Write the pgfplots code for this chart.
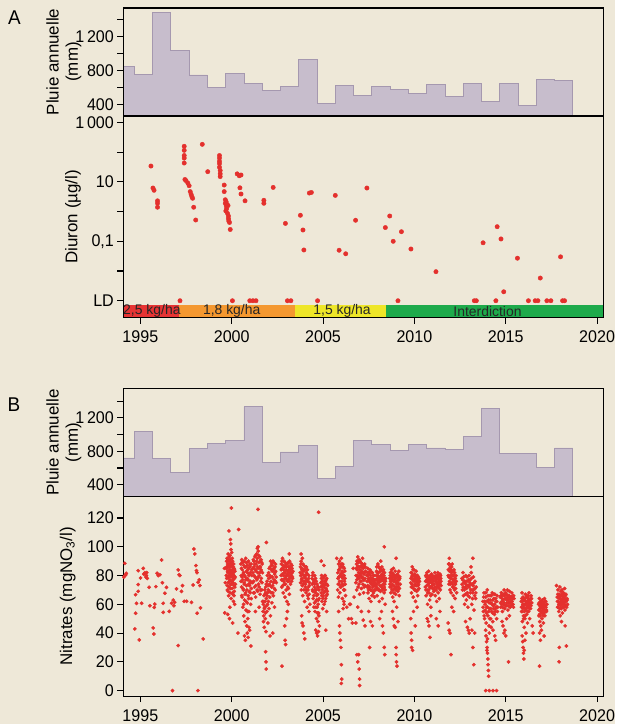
\documentclass[border=0pt]{standalone}
\usepackage{pgfplots}
\pgfplotsset{compat=1.18}
\usepackage{fontspec}
\setmainfont{Liberation Sans}
\newfontfamily\condfont{Liberation Sans}[FakeStretch=0.95]
\definecolor{bg}{RGB}{238,232,216}
\definecolor{histfill}{RGB}{199,189,204}
\definecolor{histedge}{RGB}{165,152,175}
\definecolor{dotred}{RGB}{228,48,45}
\definecolor{bandred}{RGB}{230,52,52}
\definecolor{bandorange}{RGB}{244,152,48}
\definecolor{bandyellow}{RGB}{238,230,40}
\definecolor{bandgreen}{RGB}{30,170,75}
\begin{document}
\begin{tikzpicture}
\fill[bg] (0bp,0bp) rectangle (616bp,-725bp);
\pgfplotsset{
  base/.style={scale only axis, width=480.5bp, xmin=1994.07, xmax=2020.34,
    axis line style={line width=1.3bp}, tick style={black, line width=1.1bp},
    major tick length=6bp, tick align=outside, ytick pos=left, xtick pos=bottom,
    axis on top, anchor=north west,
    tick label style={font=\condfont\fontsize{17}{17}\selectfont},
    xticklabel style={yshift=-4bp},
    label style={font=\fontsize{17}{19.5}\selectfont},
    /pgf/number format/assume math mode=true},
  hist/.style={base, height=108bp, ymin=262, ymax=1536, xtick=\empty,
    ytick={400,600,...,1400}, yticklabels={400,,800,,1\,200,},
    ylabel={Pluie annuelle\\(mm)},
    ylabel style={align=center, at={(axis description cs:-0.124,0.5)}, anchor=center}},
  nit/.style={only marks, mark=*, mark size=1.7bp, mark options={draw=dotred, fill=dotred}},
}
\node[font=\condfont\fontsize{20}{20}\selectfont] at (14.5bp,-18bp) {A};
\node[font=\condfont\fontsize{20}{20}\selectfont] at (14bp,-405bp) {B};

% ---------- A : rain ----------
\begin{axis}[hist, at={(123.5bp,-8bp)}]
\addplot[const plot, fill=histfill, draw=histedge, line width=0.8bp] coordinates {
(1993.67,850)(1994.67,752)(1995.67,1485)(1996.67,1030)(1997.67,745)(1998.67,602)
(1999.67,760)(2000.67,646)(2001.67,562)(2002.67,614)(2003.67,931)(2004.67,408)
(2005.67,626)(2006.67,507)(2007.67,614)(2008.67,574)(2009.67,527)(2010.67,638)
(2011.67,495)(2012.67,646)(2013.67,428)(2014.67,646)(2015.67,388)(2016.67,693)
(2017.67,677)(2018.67,677)} \closedcycle;
\end{axis}

% ---------- A : diuron ----------
\begin{axis}[base, at={(123.5bp,-116bp)}, height=202bp, ymode=log,
  ymin=0.00027, ymax=1660, yminorticks=false,
  ytick={0.001,0.01,0.1,1,10,100,1000}, yticklabels={LD,,{0,1},,10,,1\,000},
  xtick={1995,2000,...,2020}, xticklabels={1995,2000,2005,2010,2015,2020},
  ylabel={Diuron (µg/l)},
  ylabel style={at={(axis description cs:-0.105,0.5)}, anchor=center}]
\fill[bandred] (axis cs:1994.07,0.00027) rectangle (axis cs:1997.12,0.00071);
\fill[bandorange] (axis cs:1997.12,0.00027) rectangle (axis cs:2003.48,0.00071);
\fill[bandyellow] (axis cs:2003.48,0.00027) rectangle (axis cs:2008.43,0.00071);
\fill[bandgreen] (axis cs:2008.43,0.00027) rectangle (axis cs:2020.34,0.00071);
\node[font=\fontsize{14}{14}\selectfont, text=black!85] at (axis cs:1995.63,0.00044) {2,5 kg/ha};
\node[font=\fontsize{14}{14}\selectfont, text=black!85] at (axis cs:2000.0,0.00044) {1,8 kg/ha};
\node[font=\fontsize{14}{14}\selectfont, text=black!85] at (axis cs:2006.04,0.00044) {1,5 kg/ha};
\node[font=\fontsize{14}{14}\selectfont, text=black!85] at (axis cs:2014.0,0.00044) {Interdiction};
\addplot[only marks, mark=*, mark size=2.2bp, mark options={draw=dotred, fill=dotred}] coordinates {
(1995.58,34)(1995.69,6.2)(1995.75,5.2)(1995.94,2.3)(1995.94,1.9)(1995.94,1.4)
(1997.17,0.001)
(1997.40,157)(1997.40,115)(1997.40,77)(1997.40,63)(1997.40,43)(1997.44,12)(1997.50,11)
(1997.60,9.1)(1997.67,7.4)(1997.73,4.7)(1997.78,3.8)(1997.82,3.2)(1997.86,2.8)(1997.92,1.4)(1998.03,0.52)
(1998.39,183)(1998.69,22)
(1999.33,77)(1999.33,63)(1999.33,49)(1999.33,41)(1999.33,31)(1999.37,24)(1999.37,18.6)(1999.37,15)
(1999.59,7.8)(1999.59,4.7)(1999.65,2.5)(1999.65,1.9)(1999.70,1.55)(1999.72,1.25)(1999.68,1.05)
(1999.77,0.87)(1999.82,0.71)(1999.82,0.58)(1999.84,0.48)(1999.88,0.43)(1999.92,0.25)
(1999.70,2.1)(1999.75,1.7)(1999.80,1.6)
(2000.04,0.001)
(2000.30,18.6)(2000.41,16)(2000.51,17)(2000.45,6.3)(2000.51,3.9)(2000.73,2.3)
(2000.99,0.001)(2001.16,0.001)(2001.33,0.001)
(2001.76,2.4)(2001.76,1.9)(2002.27,6.5)(2002.94,0.4)(2003.05,0.001)(2003.24,0.001)
(2003.76,0.75)(2003.90,0.24)(2003.95,0.051)(2004.25,4.2)(2004.36,4.4)(2004.70,0.001)
(2005.67,3.5)(2005.88,0.05)(2006.24,0.038)(2006.78,0.51)(2007.40,6.2)
(2008.41,0.29)(2008.65,0.71)(2008.84,0.1)(2009.10,0.001)(2009.29,0.21)(2009.81,0.055)(2011.18,0.0095)
(2013.28,0.001)(2013.39,0.001)(2013.76,0.089)(2014.46,0.001)(2014.53,0.31)(2014.74,0.12)(2014.89,0.002)(2015.64,0.027)
(2016.24,0.001)(2016.61,0.001)(2016.76,0.001)(2016.89,0.0058)(2017.25,0.001)(2017.47,0.001)
(2018.00,0.03)(2018.11,0.001)(2018.22,0.001)};
\end{axis}

% ---------- B : rain ----------
\begin{axis}[hist, at={(123.5bp,-389bp)}, ymin=260, ymax=1550]
\addplot[const plot, fill=histfill, draw=histedge, line width=0.8bp] coordinates {
(1993.67,720)(1994.67,1040)(1995.67,712)(1996.67,552)(1997.67,832)(1998.67,892)
(1999.67,932)(2000.67,1332)(2001.67,668)(2002.67,792)(2003.67,868)(2004.67,472)
(2005.67,620)(2006.67,928)(2007.67,880)(2008.67,812)(2009.67,884)(2010.67,840)
(2011.67,824)(2012.67,976)(2013.67,1316)(2014.67,772)(2015.67,772)(2016.67,604)
(2017.67,840)(2018.67,840)} \closedcycle;
\end{axis}

% ---------- B : nitrates ----------
\begin{axis}[base, at={(123.5bp,-497bp)}, height=200bp, ymin=-3.9, ymax=135,
  ytick={0,20,...,120},
  xtick={1995,2000,...,2020}, xticklabels={1995,2000,2005,2010,2015,2020},
  ylabel={Nitrates (mgNO\textsubscript{3}/l)},
  ylabel style={at={(axis description cs:-0.116,0.5)}, anchor=center}]
\addplot[nit] coordinates {
(1994.06,93.8)(1994.15,88.5)(1994.2,80.5)(1994.23,81.5)(1994.15,80)(1994.1,79)(1994.06,63)(1994.06,42.9)
(1994.70,42.9)(1994.74,53.8)(1994.74,66.7)(1994.79,60.7)(1994.88,73.7)(1994.88,69)(1994.94,35.2)(1994.88,83.4)
(1995.01,78.3)(1995.07,60.7)(1995.16,85)(1995.19,81)(1995.25,82)(1995.3,79)(1995.33,80)(1995.35,82)(1995.38,78)
(1995.48,71.8)(1995.52,59)(1995.70,43.6)(1995.74,39.4)(1995.76,57.9)(1995.79,60.2)(1995.85,72.3)(1995.92,81.6)
(1995.98,80)(1996.07,80.6)(1996.16,90.8)(1996.21,75)(1996.25,60.7)(1996.25,54.4)(1996.34,67.7)(1996.43,71.8)
(1996.58,55.1)(1996.71,60.7)(1996.76,0)(1996.8,62.9)(1996.84,59)(1996.88,61.4)(1996.98,70.7)(1997.07,83.9)
(1997.12,80.6)(1997.16,80)(1997.07,31.3)(1997.25,69)(1997.31,73)(1997.40,62.1)(1997.53,62.1)(1997.80,61.4)
(1997.89,73.4)(1997.93,98.5)(1997.98,95)(1998.04,86.9)(1998.07,83.4)(1998.10,82)(1998.16,75.3)(1998.22,77)
(1998.26,73)(1998.11,53.8)(1998.15,0)(1998.29,57.5)(1998.44,35.9)
(1999.70,85)(1999.72,90)(1999.73,78)(1999.75,92)(1999.76,70)(1999.78,88)(1999.79,82)(1999.80,95)(1999.81,75)
(1999.82,86)(1999.83,66)(1999.84,90)(1999.85,80)(1999.86,72)(1999.87,93)(1999.88,84)(1999.89,77)(1999.90,88)
(1999.91,68)(1999.92,91)(1999.93,81)(1999.94,74)(1999.95,86)(1999.96,79)(1999.97,64)(1999.98,89)(1999.99,83)
(2000.00,76)(2000.01,87)(2000.02,71)(2000.03,84)(2000.04,79)(2000.05,90)(2000.06,67)(2000.07,82)(2000.08,75)
(2000.09,86)(2000.10,62)(2000.11,80)(2000.12,73)(2000.13,85)(2000.14,69)(2000.15,78)(2000.16,60)(2000.18,83)(2000.20,74)
(1999.98,127)(1999.85,111)(1999.93,105)(1999.95,102)(2000.38,112)(1999.62,54)(1999.78,53)(1999.9,58)(1999.88,50)
(2000.05,47)(2000.34,40)(1999.65,75)(1999.6,85)(2000.0,96)(1999.96,98)
(2000.50,88)(2000.52,80)(2000.54,72)(2000.55,91)(2000.57,65)(2000.58,84)(2000.60,77)(2000.61,58)(2000.62,89)
(2000.64,70)(2000.65,82)(2000.66,52)(2000.68,75)(2000.69,90)(2000.70,63)(2000.72,86)(2000.73,48)(2000.74,79)
(2000.76,68)(2000.77,92)(2000.78,56)(2000.80,83)(2000.81,73)(2000.82,45)(2000.84,87)(2000.85,61)(2000.86,78)
(2000.88,50)(2000.89,84)(2000.90,66)(2000.92,90)(2000.93,74)(2000.94,55)(2000.96,81)(2000.97,69)(2000.98,42)
(2001.00,86)(2001.02,76)(2001.04,60)(2001.06,88)(2001.08,71)(2001.10,80)
(2000.7,38)(2000.75,35)(2000.85,40)(2001.05,31)(2000.9,37)(2000.95,44)
(2001.15,75)(2001.17,85)(2001.19,68)(2001.21,90)(2001.23,80)(2001.25,72)(2001.27,93)(2001.29,84)(2001.31,65)
(2001.33,88)(2001.35,78)(2001.37,95)(2001.39,70)(2001.41,86)(2001.43,82)(2001.45,97)(2001.47,74)(2001.49,89)
(2001.51,80)(2001.53,93)(2001.55,67)(2001.57,86)(2001.59,76)(2001.61,91)(2001.63,83)(2001.65,70)(2001.67,88)(2001.69,62)
(2001.44,126)(2001.40,99)(2001.45,100)(2001.3,55)(2001.5,58)
(2001.72,55)(2001.74,48)(2001.76,62)(2001.78,44)(2001.80,58)(2001.82,67)(2001.84,50)(2001.86,72)(2001.88,41)
(2001.90,64)(2001.92,55)(2001.94,76)(2001.96,60)(2001.98,47)(2002.00,70)(2002.02,82)(2002.04,57)(2002.06,74)
(2002.08,65)(2002.10,86)(2002.12,52)(2002.14,79)(2002.16,68)(2002.18,88)(2002.20,61)(2002.22,83)(2002.24,73)
(2002.26,90)(2002.28,66)(2002.30,85)(2002.32,77)(2002.34,58)(2002.36,82)(2002.38,70)(2002.40,88)(2002.44,75)
(2001.90,103)(2001.86,27)(2001.88,20)(2001.89,15)(2002.25,40)(2002.1,38)
(2002.70,80)(2002.72,88)(2002.74,72)(2002.76,85)(2002.78,92)(2002.80,77)(2002.82,68)(2002.84,84)(2002.86,90)
(2002.88,74)(2002.90,82)(2002.92,65)(2002.94,87)(2002.96,79)(2002.98,70)(2003.00,86)(2003.02,62)(2003.04,81)
(2003.06,76)(2003.08,89)(2003.10,71)(2003.12,84)(2003.14,78)(2003.16,67)(2003.18,86)(2003.20,80)(2003.22,74)
(2003.24,88)(2003.26,82)(2003.28,76)(2003.30,85)(2003.32,79)(2003.35,83)
(2002.75,17)(2002.9,45)(2002.92,35)(2002.95,32)(2003.0,50)(2003.1,60)(2003.15,95)(2003.05,55)
(2003.75,82)(2003.77,75)(2003.79,88)(2003.81,70)(2003.83,85)(2003.85,78)(2003.87,92)(2003.89,66)(2003.91,83)
(2003.93,74)(2003.95,87)(2003.97,79)(2003.99,62)(2004.01,84)(2004.03,72)(2004.05,80)(2004.07,68)(2004.09,86)
(2004.11,76)(2004.13,58)(2004.15,81)(2004.17,70)(2004.19,64)(2004.21,78)(2004.23,55)(2004.25,73)(2004.28,60)
(2003.80,95)(2003.85,47)(2003.9,45)(2003.95,40)(2004.0,36)(2003.83,52)
(2004.40,78)(2004.42,70)(2004.44,82)(2004.46,64)(2004.48,75)(2004.50,58)(2004.52,72)(2004.54,80)(2004.56,55)
(2004.58,68)(2004.60,62)(2004.62,76)(2004.64,50)(2004.66,66)(2004.68,58)(2004.70,72)(2004.72,48)(2004.74,63)
(2004.76,54)(2004.78,70)(2004.80,45)
(2004.6,42)(2004.65,40)(2004.7,38)(2004.75,41)(2004.76,124)
(2004.88,75)(2004.90,68)(2004.92,80)(2004.94,62)(2004.96,73)(2004.98,57)(2005.00,78)(2005.02,66)(2005.04,72)
(2005.06,60)(2005.08,76)(2005.10,69)(2005.12,80)(2005.14,64)(2005.16,74)(2005.18,70)(2005.20,78)(2005.22,67)(2005.25,73)
(2004.9,90)(2005.05,87)(2005.15,42)(2005.2,55)
(2005.80,70)(2005.82,78)(2005.84,65)(2005.86,84)(2005.88,74)(2005.90,90)(2005.92,68)(2005.94,80)(2005.96,86)
(2005.98,72)(2006.00,92)(2006.02,76)(2006.04,83)(2006.06,64)(2006.08,88)(2006.10,73)(2006.12,80)(2006.14,62)
(2006.16,85)(2006.18,70)(2006.20,78)(2006.23,66)
(2005.85,55)(2005.9,45)(2005.92,40)(2005.95,35)(2005.98,30)(2006.0,18)(2006.02,8)(2006.0,5)(2005.75,92)
(2006.1,57)(2006.15,60)(2006.3,58)(2006.4,50)(2006.45,60)
(2006.5,60)(2006.55,50)(2006.6,47)(2006.65,85)(2006.7,65)
(2006.80,75)(2006.82,85)(2006.84,70)(2006.86,90)(2006.88,80)(2006.90,93)(2006.92,72)(2006.94,86)(2006.96,78)
(2006.98,91)(2007.00,67)(2007.02,84)(2007.04,76)(2007.06,89)(2007.08,82)(2007.10,71)(2007.12,87)(2007.14,79)
(2007.16,92)(2007.18,74)(2007.20,85)(2007.22,68)(2007.24,81)(2007.26,77)(2007.28,88)(2007.30,73)(2007.33,83)
(2006.8,47)(2006.85,25)(2006.9,20)(2006.95,25)(2006.98,15)(2007.0,8)(2007.0,3.5)(2006.9,58)(2007.1,55)(2007.2,49)(2007.3,45)
(2007.40,80)(2007.42,72)(2007.44,85)(2007.46,68)(2007.48,78)(2007.50,82)(2007.52,64)(2007.54,76)(2007.56,84)
(2007.58,70)(2007.60,80)(2007.62,62)(2007.64,74)(2007.66,78)(2007.68,66)(2007.70,82)(2007.72,72)(2007.74,76)
(2007.76,68)(2007.78,80)(2007.80,73)(2007.82,65)(2007.85,77)(2007.88,70)
(2007.5,55)(2007.6,48)(2007.55,30)(2007.7,45)
(2007.90,80)(2007.92,72)(2007.94,86)(2007.96,66)(2007.98,78)(2008.00,88)(2008.02,70)(2008.04,82)(2008.06,75)
(2008.08,62)(2008.10,85)(2008.12,77)(2008.14,69)(2008.16,90)(2008.18,80)(2008.20,73)(2008.22,86)(2008.24,64)
(2008.26,79)(2008.28,71)(2008.30,84)(2008.32,76)(2008.34,68)(2008.36,82)(2008.38,74)(2008.40,60)(2008.43,78)
(2008.35,100)(2008.2,55)(2008.25,45)(2008.3,40)(2008.35,30)(2008.38,25)(2008.1,50)
(2008.65,78)(2008.67,72)(2008.69,82)(2008.71,68)(2008.73,76)(2008.75,84)(2008.77,70)(2008.79,80)(2008.81,65)
(2008.83,77)(2008.85,85)(2008.87,73)(2008.89,62)(2008.91,79)(2008.93,71)(2008.95,83)(2008.97,67)(2008.99,75)
(2009.01,80)(2009.03,58)(2009.05,74)(2009.07,81)(2009.09,69)(2009.11,77)(2009.13,72)(2009.15,83)(2009.17,66)
(2009.19,78)(2009.22,74)
(2009.0,92)(2008.8,55)(2008.9,45)(2008.95,44)(2009.0,30)(2009.0,25)(2009.02,20)(2009.05,17)(2008.85,50)(2009.1,48)
(2009.80,75)(2009.82,82)(2009.84,68)(2009.86,79)(2009.88,86)(2009.90,72)(2009.92,80)(2009.94,65)(2009.96,77)
(2009.98,84)(2010.00,70)(2010.02,81)(2010.04,74)(2010.06,62)(2010.08,78)(2010.10,83)(2010.12,69)(2010.14,76)
(2010.16,80)(2010.18,66)(2010.20,73)(2010.22,79)(2010.25,71)(2010.28,76)
(2009.8,50)(2009.82,40)(2009.85,35)(2009.85,30)(2009.9,28)(2009.95,55)(2010.05,45)(2010.15,58)
(2010.60,72)(2010.62,80)(2010.64,66)(2010.66,76)(2010.68,82)(2010.70,70)(2010.72,60)(2010.74,78)(2010.76,74)
(2010.78,83)(2010.80,68)(2010.82,77)(2010.84,63)(2010.86,80)(2010.88,72)(2010.90,58)(2010.92,75)(2010.94,81)
(2010.96,67)(2010.98,78)(2011.00,71)(2011.03,76)(2011.06,69)
(2010.7,50)(2010.75,48)(2010.8,45)(2010.85,37)(2010.9,52)
(2011.08,78)(2011.10,70)(2011.12,82)(2011.14,66)(2011.16,76)(2011.18,80)(2011.20,72)(2011.22,62)(2011.24,79)
(2011.26,74)(2011.28,82)(2011.30,68)(2011.32,77)(2011.34,80)(2011.36,64)(2011.38,75)(2011.40,81)(2011.42,70)
(2011.44,78)(2011.46,73)
(2011.2,50)(2011.3,45)(2011.4,55)
(2011.85,80)(2011.87,88)(2011.89,74)(2011.91,92)(2011.93,83)(2011.95,70)(2011.97,86)(2011.99,78)(2012.01,68)
(2012.03,82)(2012.05,75)(2012.07,88)(2012.09,72)(2012.11,80)(2012.13,66)(2012.15,77)(2012.17,84)(2012.19,70)
(2012.21,78)(2012.23,64)(2012.25,74)(2012.28,80)(2012.31,68)
(2011.85,47)(2011.9,42)(2011.95,40)(2012.0,25)(2012.05,58)(2012.15,55)
(2012.60,78)(2012.63,70)(2012.66,82)(2012.69,66)(2012.72,75)(2012.75,60)(2012.78,72)(2012.81,80)(2012.84,63)
(2012.87,76)(2012.90,68)(2012.93,58)(2012.96,73)(2012.99,80)(2013.02,65)(2013.05,77)(2013.08,70)(2013.11,82)
(2013.14,60)(2013.17,74)(2013.20,68)(2013.23,79)(2013.26,56)(2013.29,71)(2013.32,76)(2013.35,64)(2013.38,72)
(2013.2,92)(2013.1,86)(2012.8,48)(2012.9,44)(2012.95,42)(2013.0,40)(2013.05,50)(2013.15,42)(2013.2,30)(2013.25,18)(2013.3,40)
(2013.75,62)(2013.78,55)(2013.81,68)(2013.84,50)(2013.87,60)(2013.90,65)(2013.93,47)(2013.96,58)(2013.99,70)
(2014.02,52)(2014.05,63)(2014.08,45)(2014.11,57)(2014.14,66)(2014.17,50)(2014.20,61)(2014.23,55)(2014.26,68)
(2014.29,48)(2014.32,59)(2014.35,64)(2014.38,53)(2014.41,67)(2014.44,57)(2014.47,62)(2014.50,50)(2014.53,66)(2014.56,58)
(2013.9,42)(2013.92,38)(2013.95,34)(2013.98,30)(2014.0,26)(2014.02,22)(2014.03,18)(2014.05,14)(2014.06,10)
(2013.97,28)(2014.0,36)(2014.1,40)(2014.2,44)(2014.3,42)(2014.4,38)(2014.45,35)
(2013.9,0)(2014.1,0)(2014.3,0)(2014.5,0)
(2014.70,65)(2014.73,58)(2014.76,68)(2014.79,62)(2014.82,55)(2014.85,66)(2014.88,60)(2014.91,70)(2014.94,57)
(2014.97,64)(2015.00,68)(2015.03,59)(2015.06,63)(2015.09,70)(2015.12,56)(2015.15,66)(2015.18,61)(2015.21,69)
(2015.24,58)(2015.27,65)(2015.30,62)(2015.33,68)(2015.36,60)(2015.39,66)(2015.42,58)(2015.45,64)
(2014.8,48)(2014.85,45)(2014.9,40)(2014.95,42)(2015.0,38)(2015.05,50)(2015.15,20)(2015.2,52)
(2015.85,62)(2015.87,55)(2015.89,68)(2015.91,48)(2015.93,60)(2015.95,65)(2015.97,52)(2015.99,58)(2016.01,44)
(2016.03,63)(2016.05,50)(2016.07,67)(2016.09,56)(2016.11,40)(2016.13,61)(2016.15,53)(2016.17,66)(2016.19,47)
(2016.21,59)(2016.23,64)(2016.25,55)(2016.27,68)(2016.29,60)(2016.31,50)(2016.33,63)(2016.36,57)(2016.39,66)(2016.42,61)
(2015.9,38)(2015.93,34)(2015.95,30)(2015.97,26)(2015.99,22)(2016.01,28)(2016.05,35)(2016.45,45)(2016.5,40)
(2016.80,60)(2016.82,52)(2016.84,64)(2016.86,48)(2016.88,57)(2016.90,62)(2016.92,45)(2016.94,55)(2016.96,60)
(2016.98,50)(2017.00,63)(2017.02,54)(2017.04,58)(2017.06,47)(2017.08,61)(2017.10,56)(2017.12,64)(2017.14,52)
(2017.16,59)(2017.19,62)(2017.22,55)(2017.25,60)
(2016.85,40)(2016.9,35)(2016.95,42)(2016.85,17)(2017.1,38)
(2017.82,65)(2017.84,58)(2017.86,70)(2017.88,62)(2017.90,55)(2017.92,67)(2017.94,60)(2017.96,72)(2017.98,52)
(2018.00,64)(2018.02,69)(2018.04,57)(2018.06,63)(2018.08,70)(2018.10,54)(2018.12,66)(2018.14,61)(2018.16,68)
(2018.18,58)(2018.20,64)(2018.22,71)(2018.24,56)(2018.26,62)(2018.29,67)(2018.32,59)(2018.35,64)(2018.38,60)
(2017.78,73)(2017.92,20)(2017.93,30)(2018.32,31)(2018.25,45)(2018.05,48)};
\addplot[nit] coordinates {
(1999.71,80)(1999.73,86)(1999.75,73)(1999.77,83)(1999.79,91)(1999.81,69)(1999.83,79)(1999.85,87)(1999.87,76)
(1999.89,82)(1999.91,94)(1999.93,71)(1999.95,83)(1999.97,88)(1999.99,74)(2000.01,80)(2000.03,92)(2000.05,68)
(2000.07,77)(2000.09,81)(2000.11,88)(2000.13,66)(2000.15,84)(2000.17,72)(2000.19,79)
(2000.51,76)(2000.53,85)(2000.55,66)(2000.57,79)(2000.59,90)(2000.61,71)(2000.63,81)(2000.65,60)(2000.67,87)
(2000.69,74)(2000.71,80)(2000.73,67)(2000.75,86)(2000.77,77)(2000.79,62)(2000.81,89)(2000.83,70)(2000.85,82)
(2000.87,55)(2000.89,77)(2000.91,85)(2000.93,64)(2000.95,80)(2000.97,73)(2000.99,88)(2001.01,68)(2001.03,82)
(2001.05,75)(2001.07,64)(2001.09,84)
(2001.16,82)(2001.18,91)(2001.20,76)(2001.22,86)(2001.24,68)(2001.26,88)(2001.28,79)(2001.30,94)(2001.32,73)
(2001.34,83)(2001.36,90)(2001.38,77)(2001.40,92)(2001.42,69)(2001.44,85)(2001.46,79)(2001.48,94)(2001.50,72)
(2001.52,86)(2001.54,82)(2001.56,90)(2001.58,70)(2001.60,84)(2001.62,78)(2001.64,89)(2001.66,75)(2001.68,82)
(2001.73,60)(2001.75,52)(2001.77,66)(2001.79,57)(2001.81,70)(2001.83,62)(2001.85,54)(2001.87,68)(2001.89,74)
(2001.91,59)(2001.93,66)(2001.95,80)(2001.97,68)(2001.99,73)(2002.01,62)(2002.03,78)(2002.05,85)(2002.07,69)
(2002.09,80)(2002.11,73)(2002.13,90)(2002.15,76)(2002.17,84)(2002.19,72)(2002.21,87)(2002.23,79)(2002.25,68)
(2002.27,84)(2002.29,75)(2002.31,89)(2002.33,71)(2002.35,81)(2002.37,86)(2002.39,76)(2002.41,83)(2002.43,79)
(2002.71,84)(2002.73,77)(2002.75,90)(2002.77,81)(2002.79,73)(2002.81,87)(2002.83,80)(2002.85,76)(2002.87,86)
(2002.89,82)(2002.91,78)(2002.93,89)(2002.95,74)(2002.97,84)(2002.99,80)(2003.01,77)(2003.03,88)(2003.05,83)
(2003.07,72)(2003.09,80)(2003.11,86)(2003.13,76)(2003.15,82)(2003.17,90)(2003.19,78)(2003.21,84)(2003.23,79)
(2003.25,85)(2003.27,80)(2003.29,87)(2003.31,82)(2003.33,78)
(2003.76,86)(2003.78,80)(2003.80,90)(2003.82,77)(2003.84,84)(2003.86,73)(2003.88,81)(2003.90,88)(2003.92,76)
(2003.94,84)(2003.96,70)(2003.98,80)(2004.00,76)(2004.02,86)(2004.04,74)(2004.06,78)(2004.08,82)(2004.10,70)
(2004.12,77)(2004.14,84)(2004.16,66)(2004.18,76)(2004.20,72)(2004.22,80)(2004.24,67)(2004.26,75)
(2004.41,74)(2004.43,80)(2004.45,69)(2004.47,77)(2004.49,66)(2004.51,76)(2004.53,61)(2004.55,74)(2004.57,70)
(2004.59,78)(2004.61,58)(2004.63,70)(2004.65,63)(2004.67,74)(2004.69,54)(2004.71,67)(2004.73,60)(2004.75,72)
(2004.77,52)(2004.79,64)
(2004.89,72)(2004.91,78)(2004.93,66)(2004.95,76)(2004.97,70)(2004.99,64)(2005.01,74)(2005.03,79)(2005.05,68)
(2005.07,73)(2005.09,80)(2005.11,62)(2005.13,76)(2005.15,71)(2005.17,77)(2005.19,66)(2005.21,74)(2005.23,69)
(2005.81,82)(2005.83,74)(2005.85,88)(2005.87,79)(2005.89,84)(2005.91,76)(2005.93,86)(2005.95,72)(2005.97,81)
(2005.99,88)(2006.01,79)(2006.03,86)(2006.05,74)(2006.07,82)(2006.09,78)(2006.11,86)(2006.13,70)(2006.15,80)
(2006.17,76)(2006.19,83)(2006.21,74)
(2006.81,80)(2006.83,88)(2006.85,77)(2006.87,84)(2006.89,86)(2006.91,79)(2006.93,89)(2006.95,82)(2006.97,74)
(2006.99,86)(2007.01,80)(2007.03,90)(2007.05,81)(2007.07,76)(2007.09,86)(2007.11,79)(2007.13,83)(2007.15,88)
(2007.17,78)(2007.19,82)(2007.21,77)(2007.23,86)(2007.25,72)(2007.27,82)(2007.29,78)(2007.31,86)
(2007.41,76)(2007.43,82)(2007.45,73)(2007.47,80)(2007.49,70)(2007.51,77)(2007.53,81)(2007.55,72)(2007.57,78)
(2007.59,75)(2007.61,83)(2007.63,70)(2007.65,77)(2007.67,82)(2007.69,74)(2007.71,78)(2007.73,69)(2007.75,80)
(2007.77,74)(2007.79,77)(2007.81,70)(2007.84,75)(2007.87,73)
(2007.91,77)(2007.93,83)(2007.95,74)(2007.97,82)(2007.99,71)(2008.01,80)(2008.03,76)(2008.05,86)(2008.07,70)
(2008.09,79)(2008.11,73)(2008.13,83)(2008.15,76)(2008.17,84)(2008.19,72)(2008.21,78)(2008.23,81)(2008.25,70)
(2008.27,83)(2008.29,77)(2008.31,74)(2008.33,80)(2008.35,72)(2008.37,78)(2008.39,70)(2008.41,76)
(2008.66,74)(2008.68,80)(2008.70,76)(2008.72,78)(2008.74,72)(2008.76,82)(2008.78,74)(2008.80,79)(2008.82,70)
(2008.84,81)(2008.86,76)(2008.88,68)(2008.90,77)(2008.92,80)(2008.94,72)(2008.96,78)(2008.98,70)(2009.00,80)
(2009.02,76)(2009.04,72)(2009.06,79)(2009.08,75)(2009.10,70)(2009.12,80)(2009.14,74)(2009.16,77)(2009.18,71)(2009.20,79)
(2009.81,78)(2009.83,72)(2009.85,82)(2009.87,74)(2009.89,80)(2009.91,77)(2009.93,84)(2009.95,71)(2009.97,80)
(2009.99,76)(2010.01,78)(2010.03,73)(2010.05,80)(2010.07,70)(2010.09,76)(2010.11,79)(2010.13,73)(2010.15,80)
(2010.17,75)(2010.19,70)(2010.21,77)(2010.23,74)(2010.26,78)
(2010.61,76)(2010.63,70)(2010.65,79)(2010.67,73)(2010.69,77)(2010.71,80)(2010.73,68)(2010.75,76)(2010.77,79)
(2010.79,70)(2010.81,75)(2010.83,72)(2010.85,78)(2010.87,76)(2010.89,66)(2010.91,79)(2010.93,72)(2010.95,77)
(2010.97,73)(2010.99,80)(2011.01,74)(2011.04,71)
(2011.09,74)(2011.11,79)(2011.13,72)(2011.15,78)(2011.17,76)(2011.19,70)(2011.21,78)(2011.23,75)(2011.25,80)
(2011.27,72)(2011.29,78)(2011.31,75)(2011.33,73)(2011.35,79)(2011.37,71)(2011.39,77)(2011.41,74)(2011.43,80)(2011.45,76)
(2011.86,84)(2011.88,79)(2011.90,88)(2011.92,76)(2011.94,85)(2011.96,80)(2011.98,74)(2012.00,84)(2012.02,78)
(2012.04,86)(2012.06,80)(2012.08,74)(2012.10,83)(2012.12,77)(2012.14,72)(2012.16,80)(2012.18,76)(2012.20,82)
(2012.22,74)(2012.24,78)(2012.26,71)(2012.29,76)
(2012.61,74)(2012.64,77)(2012.67,72)(2012.70,79)(2012.73,70)(2012.76,76)(2012.79,67)(2012.82,74)(2012.85,71)
(2012.88,79)(2012.91,73)(2012.94,66)(2012.97,77)(2013.00,72)(2013.03,75)(2013.06,68)(2013.09,74)(2013.12,78)
(2013.15,70)(2013.18,64)(2013.21,73)(2013.24,70)(2013.27,75)(2013.30,66)(2013.33,71)(2013.36,68)
(2013.76,58)(2013.79,65)(2013.82,52)(2013.85,62)(2013.88,56)(2013.91,68)(2013.94,54)(2013.97,62)(2014.00,58)
(2014.03,66)(2014.06,55)(2014.09,61)(2014.12,50)(2014.15,63)(2014.18,57)(2014.21,66)(2014.24,60)(2014.27,54)
(2014.30,63)(2014.33,57)(2014.36,67)(2014.39,60)(2014.42,55)(2014.45,64)(2014.48,58)(2014.51,62)(2014.54,55)
(2014.71,61)(2014.74,66)(2014.77,60)(2014.80,64)(2014.83,58)(2014.86,63)(2014.89,67)(2014.92,61)(2014.95,66)
(2014.98,59)(2015.01,64)(2015.04,67)(2015.07,61)(2015.10,65)(2015.13,59)(2015.16,63)(2015.19,66)(2015.22,61)
(2015.25,64)(2015.28,59)(2015.31,65)(2015.34,62)(2015.37,64)(2015.40,60)(2015.43,66)
(2015.86,58)(2015.88,64)(2015.90,55)(2015.92,62)(2015.94,57)(2015.96,63)(2015.98,50)(2016.00,60)(2016.02,55)
(2016.04,64)(2016.06,52)(2016.08,60)(2016.10,62)(2016.12,57)(2016.14,65)(2016.16,58)(2016.18,62)(2016.20,55)
(2016.22,61)(2016.24,66)(2016.26,58)(2016.28,63)(2016.30,57)(2016.32,61)(2016.35,64)(2016.38,59)(2016.41,64)
(2016.81,56)(2016.83,61)(2016.85,53)(2016.87,59)(2016.89,52)(2016.91,58)(2016.93,55)(2016.95,62)(2016.97,54)
(2016.99,58)(2017.01,56)(2017.03,60)(2017.05,52)(2017.07,58)(2017.09,54)(2017.11,60)(2017.13,56)(2017.15,62)
(2017.17,55)(2017.20,58)(2017.23,56)
(2017.83,62)(2017.85,67)(2017.87,58)(2017.89,65)(2017.91,60)(2017.93,64)(2017.95,57)(2017.97,66)(2017.99,61)
(2018.01,59)(2018.03,66)(2018.05,62)(2018.07,67)(2018.09,60)(2018.11,63)(2018.13,58)(2018.15,65)(2018.17,61)
(2018.19,67)(2018.21,60)(2018.23,64)(2018.25,59)(2018.27,66)(2018.30,62)(2018.33,58)(2018.36,63)};
\end{axis}
\end{tikzpicture}
\end{document}
